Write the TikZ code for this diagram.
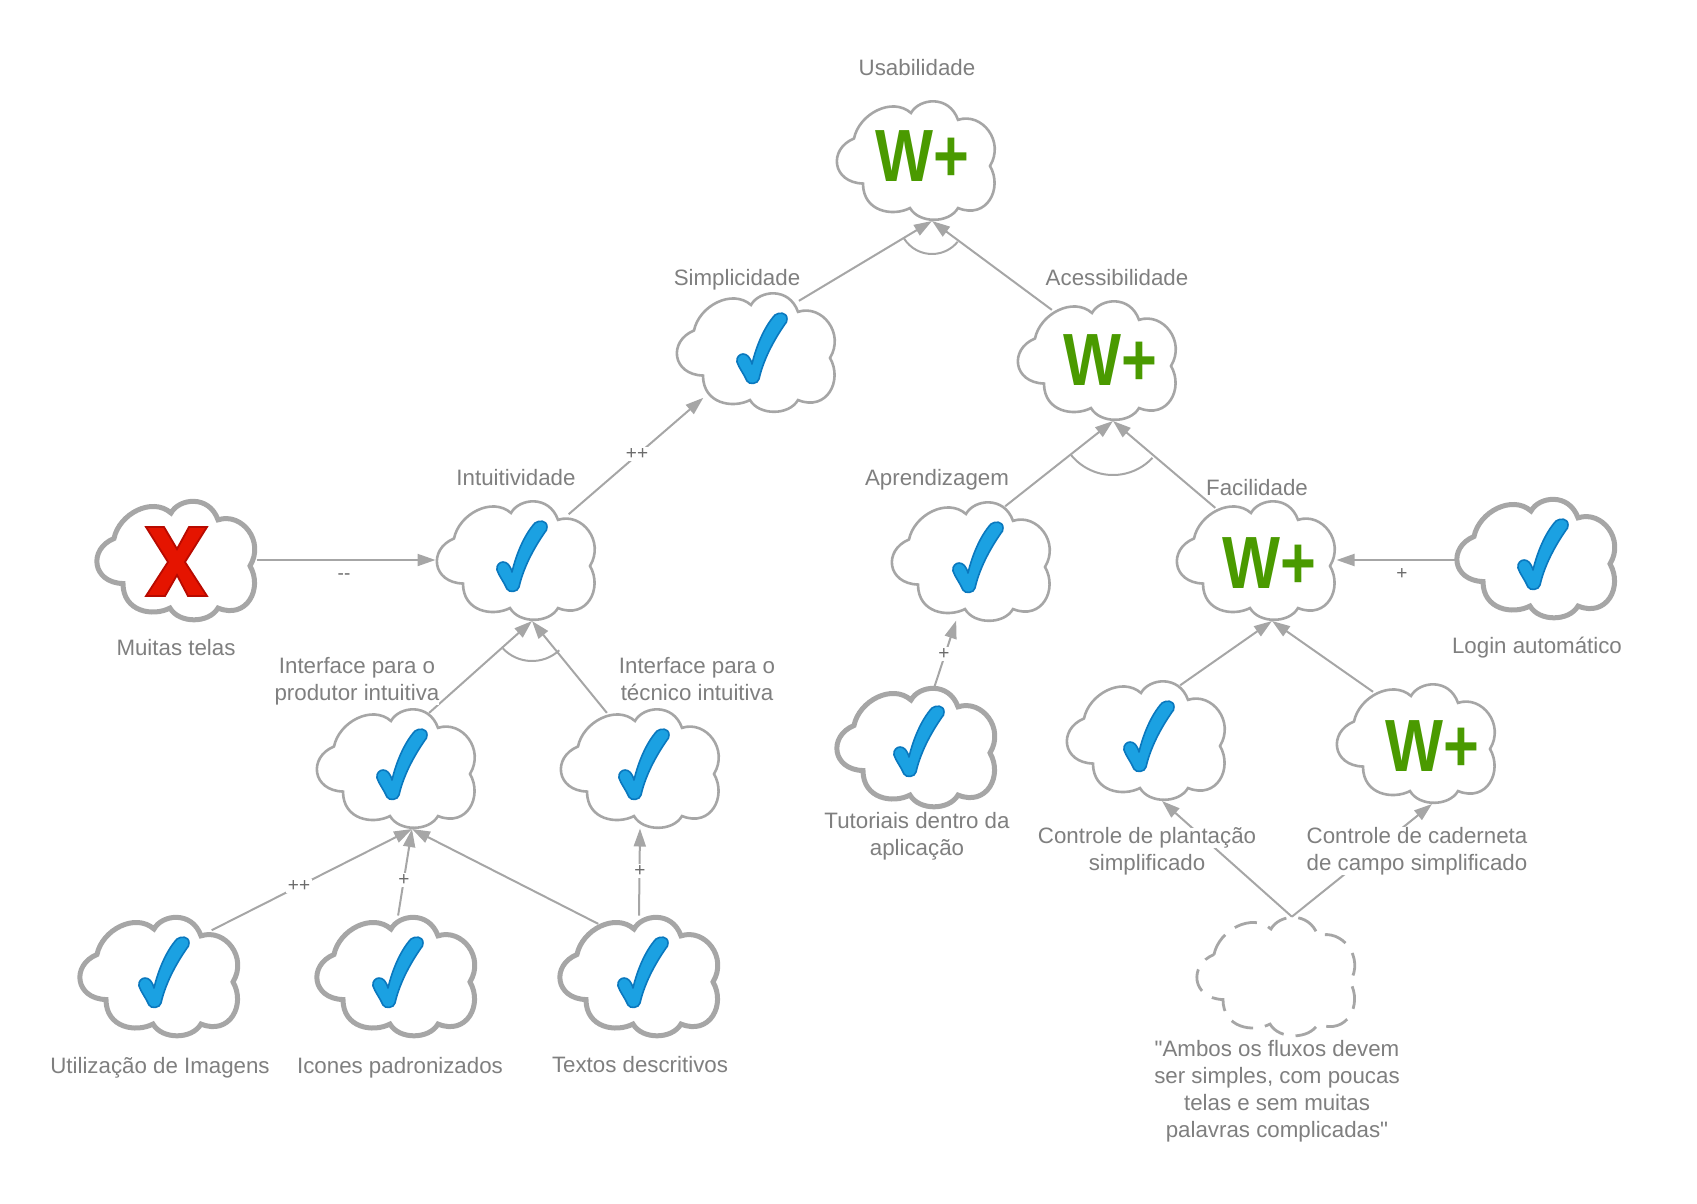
\documentclass[tikz,border=0pt]{standalone}
\usepackage{fontspec}
\setmainfont{Liberation Sans}[Ligatures=TeXOff]
\usetikzlibrary{arrows.meta,calc,shapes.geometric}
\definecolor{linegray}{HTML}{A6A6A6}
\definecolor{textgray}{HTML}{7F7F7F}
\definecolor{wgreen}{HTML}{4A9A00}
\definecolor{checkblue}{HTML}{1BA1E2}
\definecolor{checkedge}{HTML}{0A78BE}
\definecolor{crossred}{HTML}{E51400}
\definecolor{crossedge}{HTML}{B80A00}
\tikzset{
  goalnode/.style={ellipse,minimum width=161pt,minimum height=121pt,inner sep=0pt,outer sep=0pt},
  cloudthin/.style={draw=linegray,line width=2.6pt,fill=white},
  cloudthick/.style={draw=linegray,line width=5pt,fill=white},
  clouddash/.style={draw=linegray,line width=2.8pt,dash pattern=on 23pt off 12pt},
  link/.style={draw=linegray,line width=2pt,-{Triangle[length=18pt,width=12pt]}},
  andarc/.style={draw=linegray,line width=2pt},
  caption/.style={text=textgray,font=\fontsize{22.3}{27}\selectfont,align=center,fill=white,inner sep=0pt},
  tag/.style={text=textgray!85!black,font=\fontsize{19}{19}\selectfont,fill=white,inner sep=2pt},
  cloudshape/.pic={
    \path[#1,shift={(1,-1)},yscale=.98] (-63,23) .. controls (-58,48) and (-25,66) .. (-6,49)
      .. controls (2,64) and (32,68) .. (41,42)
      .. controls (65,50) and (88,20) .. (73,-5)
      .. controls (86,-28) and (70,-60) .. (41,-48)
      .. controls (32,-64) and (2,-64) .. (-7,-48)
      .. controls (-24,-57) and (-54,-52) .. (-54,-23)
      .. controls (-85,-22) and (-89,12) .. (-63,23) -- cycle;
  },
  checkicon/.pic={
    \path[fill=checkblue,draw=checkedge,line width=1.6pt,line join=round]
      (-4,-12) .. controls (0,5) and (8,25) .. (19,37)
      .. controls (23,40) and (31,40) .. (31,33)
      .. controls (31,30) and (30,29) .. (29,28)
      .. controls (20,15) and (8,-5) .. (3,-27)
      .. controls (2,-32) and (-7,-33) .. (-9,-29)
      .. controls (-12,-22) and (-17,-16) .. (-19,-10)
      .. controls (-20,-5) and (-16,-2) .. (-13,-2)
      .. controls (-9,-2) and (-6,-5) .. (-4,-12) -- cycle;
  },
  crossicon/.pic={
    \path[fill=crossred,draw=crossedge,line width=1.8pt,line join=miter]
      (-30,33) -- (-12,33) -- (1,11) -- (13,33) -- (31,33) -- (9,-2) -- (31,-36)
      -- (12,-36) -- (1,-15) -- (-11,-36) -- (-30,-36) -- (-8,-2) -- cycle;
  },
  wicon/.pic={
    \node[text=wgreen,inner sep=0pt,font=\fontsize{74}{74}\selectfont\bfseries] (-w) at (6,6) {\scalebox{.83}[1]{W+}};
  },
}
\newcommand{\softgoal}[5][0,0]{%
  \node[goalnode] (#2) at (#3) {};
  \coordinate (#2-in) at ($(#2)+(16,-61)$);
  \pic at (#2) {cloudshape=#4};
  \pic (#2) at ($(#2)+(#1)$) {#5};
}
\begin{document}
\begin{tikzpicture}[x=1pt,y=1pt]
  \useasboundingbox (0,0) rectangle (1697,-1203);
  % goals
  \softgoal[0,-2]{usab}{916,-160}{cloudthin}{wicon}
  \softgoal{simp}{756,-352}{cloudthin}{checkicon}
  \softgoal[7,-6]{aces}{1097,-360}{cloudthin}{wicon}
  \softgoal{intu}{516,-560}{cloudthin}{checkicon}
  \softgoal{telas}{176,-560}{cloudthick}{crossicon}
  \softgoal[1,0]{apre}{971,-561}{cloudthin}{checkicon}
  \softgoal[7,-9]{faci}{1256,-560}{cloudthin}{wicon}
  \softgoal[1,0]{login}{1536,-558}{cloudthick}{checkicon}
  \softgoal{prod}{396,-768}{cloudthin}{checkicon}
  \softgoal[-2,0]{tecn}{640,-768}{cloudthin}{checkicon}
  \softgoal[-3,2]{tuto}{916,-747}{cloudthick}{checkicon}
  \softgoal[-3,0]{plan}{1146,-740}{cloudthin}{checkicon}
  \softgoal[10,-9]{cade}{1416,-743}{cloudthin}{wicon}
  \softgoal[-1,0]{imag}{159,-976}{cloudthick}{checkicon}
  \softgoal[-4,0]{icon}{396,-976}{cloudthick}{checkicon}
  \softgoal[-2,0]{text}{639,-976}{cloudthick}{checkicon}
  \node[goalnode] (fala) at (1276,-976) {};
  \pic at (fala) {cloudshape=clouddash};
  % links
  \draw[link] (simp.50) -- (usab-in);
  \draw[link] (aces.132) -- (usab-in);
  \draw[link] (intu.41) -- (simp.221);
  \draw[link] (telas.east) -- (intu.west);
  \draw[link] (apre.58) -- (aces-in);
  \draw[link] (faci.128) -- (aces-in);
  \draw[link] (tuto.73) -- (apre.256);
  \draw[link] (login.west |- faci.east) -- (faci.east);
  \draw[link] (plan.58) -- (faci-in);
  \draw[link] (cade.130) -- (faci-in);
  \draw[link] (prod.59) -- (intu-in);
  \draw[link] (tecn.121) -- (intu-in);
  \draw[link] (imag.41) -- (prod-in);
  \draw[link] (icon.88) -- (prod-in);
  \draw[link] (text.128) -- (prod-in);
  \draw[link] (text.north) -- (tecn.south);
  \draw[link] (fala.75) -- (plan-in);
  \draw[link] (fala.75) -- (cade-in);
  % and arcs
  \draw[andarc] ($(usab-in)+(212:33)$) arc (212:321:33);
  \draw[andarc] ($(aces-in)+(219:54)$) arc (219:317:54);
  \draw[andarc] ($(intu-in)+(223:40)$) arc (223:313:40);
  % contributions
  \node[tag] (t1) at (637,-454) {++};
  \node[tag] (t2) at (344,-577) {--};
  \node[tag] (t3) at (944,-654) {+};
  \node[tag] (t4) at (1402,-574) {+};
  \node[tag] (t5) at (299,-886) {++};
  \node[tag] (t6) at (404,-880) {+};
  \node[tag] (t7) at (640,-871) {+};
  % captions
  \node[caption] (c1) at (917,-68) {Usabilidade};
  \node[caption] (c2) at (737,-280) {Simplicidade};
  \node[caption] (c3) at (1117,-278) {Acessibilidade};
  \node[caption] (c4) at (516,-478) {Intuitividade};
  \node[caption] (c5) at (176,-648) {Muitas telas};
  \node[caption] (c6) at (937,-480) {Aprendizagem};
  \node[caption] (c7) at (1257,-488) {Facilidade};
  \node[caption] (c8) at (1537,-648) {Login automático};
  \node[caption] (c9) at (357,-681) {Interface para o\\produtor intuitiva};
  \node[caption] (c10) at (697,-679) {Interface para o\\técnico intuitiva};
  \node[caption] (c11) at (917,-836) {Tutoriais dentro da\\aplicação};
  \node[caption] (c12) at (1147,-838) {Controle de plantação};
  \node[caption] (c13) at (1147,-865) {simplificado};
  \node[caption] (c14) at (1417,-851) {Controle de caderneta\\de campo simplificado};
  \node[caption] (c15) at (160,-1068) {Utilização de Imagens};
  \node[caption] (c16) at (400,-1068) {Icones padronizados};
  \node[caption] (c17) at (640,-1065) {Textos descritivos};
  \node[caption] (c18) at (1277,-1091) {"Ambos os fluxos devem\\ser simples, com poucas\\telas e sem muitas\\palavras complicadas"};
\end{tikzpicture}
\end{document}
